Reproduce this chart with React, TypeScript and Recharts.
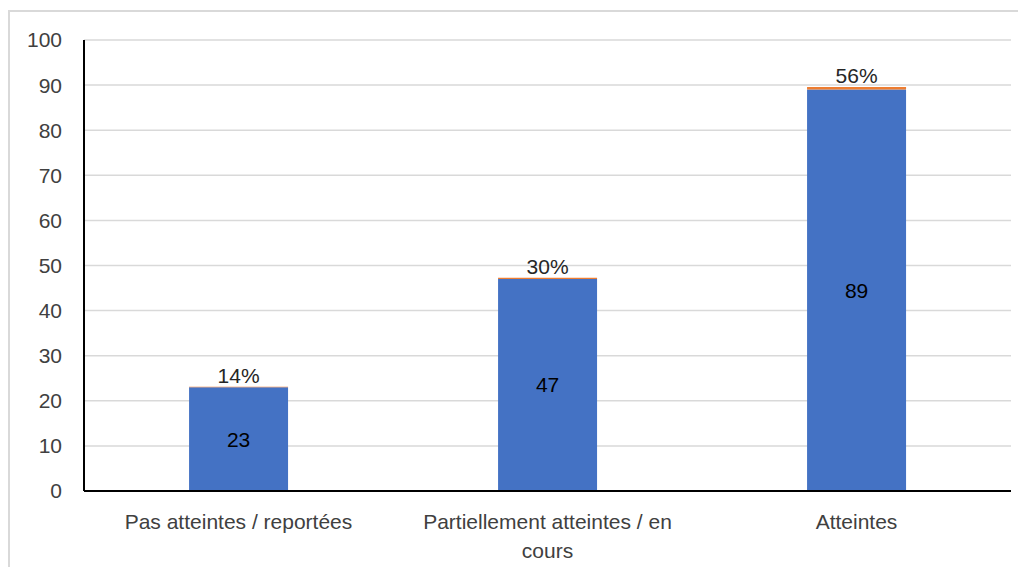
import { BarChart, Bar, XAxis, YAxis, CartesianGrid, LabelList } from 'recharts';

const categories = ['Pas atteintes / reportées', 'Partiellement atteintes / en cours', 'Atteintes'];
const counts = [23, 47, 89];
const shares = [0.14, 0.3, 0.56];
const yTicks = [0, 10, 20, 30, 40, 50, 60, 70, 80, 90, 100];

const chartData = categories.map((name, i) => ({
  name,
  count: counts[i],
  share: shares[i],
}));

const FONT = '"Liberation Sans", Arial, sans-serif';
const FS = 21;
const MAX_LABEL_WIDTH = 285;

let ctx: CanvasRenderingContext2D | null = null;
function measure(text: string) {
  if (!ctx) ctx = document.createElement('canvas').getContext('2d');
  if (!ctx) return text.length * FS * 0.5;
  ctx.font = `${FS}px ${FONT}`;
  return ctx.measureText(text).width;
}

function wrap(text: string) {
  const words = text.split(' ');
  const lines: string[] = [];
  let cur = '';
  words.forEach(w => {
    const next = cur ? `${cur} ${w}` : w;
    if (cur && measure(next) > MAX_LABEL_WIDTH) {
      lines.push(cur);
      cur = w;
    } else {
      cur = next;
    }
  });
  if (cur) lines.push(cur);
  return lines;
}

function CategoryTick(props: any) {
  const { x, y, payload } = props;
  const lines = wrap(String(payload.value));
  return (
    <text x={x} y={y + 30} textAnchor="middle" fill="#404040" fontSize={FS} fontFamily={FONT}>
      {lines.map((l, i) => (
        <tspan key={i} x={x} dy={i === 0 ? 0 : 29}>
          {l}
        </tspan>
      ))}
    </text>
  );
}

export default function App() {
  return (
    <div
      style={{
        marginTop: 2,
        width: 1016,
        height: 555,
        borderLeft: '2px solid #d9d9d9',
        borderTop: '2px solid #d9d9d9',
        fontFamily: FONT,
      }}
    >
      <BarChart
        width={1016}
        height={553}
        data={chartData}
        margin={{ top: 28, right: 15, left: 0, bottom: 4 }}
        barCategoryGap="34%"
      >
        <CartesianGrid vertical={false} stroke="#d9d9d9" strokeWidth={1.5} />
        <XAxis
          dataKey="name"
          height={70}
          tickLine={false}
          axisLine={{ stroke: '#000', strokeWidth: 2 }}
          tick={<CategoryTick />}
          interval={0}
        />
        <YAxis
          width={74}
          domain={[0, 100]}
          ticks={yTicks}
          tickLine={false}
          tickSize={0}
          tickMargin={22}
          axisLine={{ stroke: '#000', strokeWidth: 2 }}
          tick={{ fill: '#404040', fontSize: FS, fontFamily: FONT }}
          interval={0}
        />
        <Bar dataKey="count" stackId="a" fill="#4472C4" isAnimationActive={false}>
          <LabelList dataKey="count" position="center" fill="#000" fontSize={FS} fontFamily={FONT} />
        </Bar>
        <Bar dataKey="share" stackId="a" fill="#ED7D31" isAnimationActive={false}>
          <LabelList
            dataKey="share"
            position="top"
            offset={4}
            fill="#262626"
            fontSize={FS}
            fontFamily={FONT}
            formatter={(v: any) => `${Math.round(Number(v) * 100)}%`}
          />
        </Bar>
      </BarChart>
    </div>
  );
}
